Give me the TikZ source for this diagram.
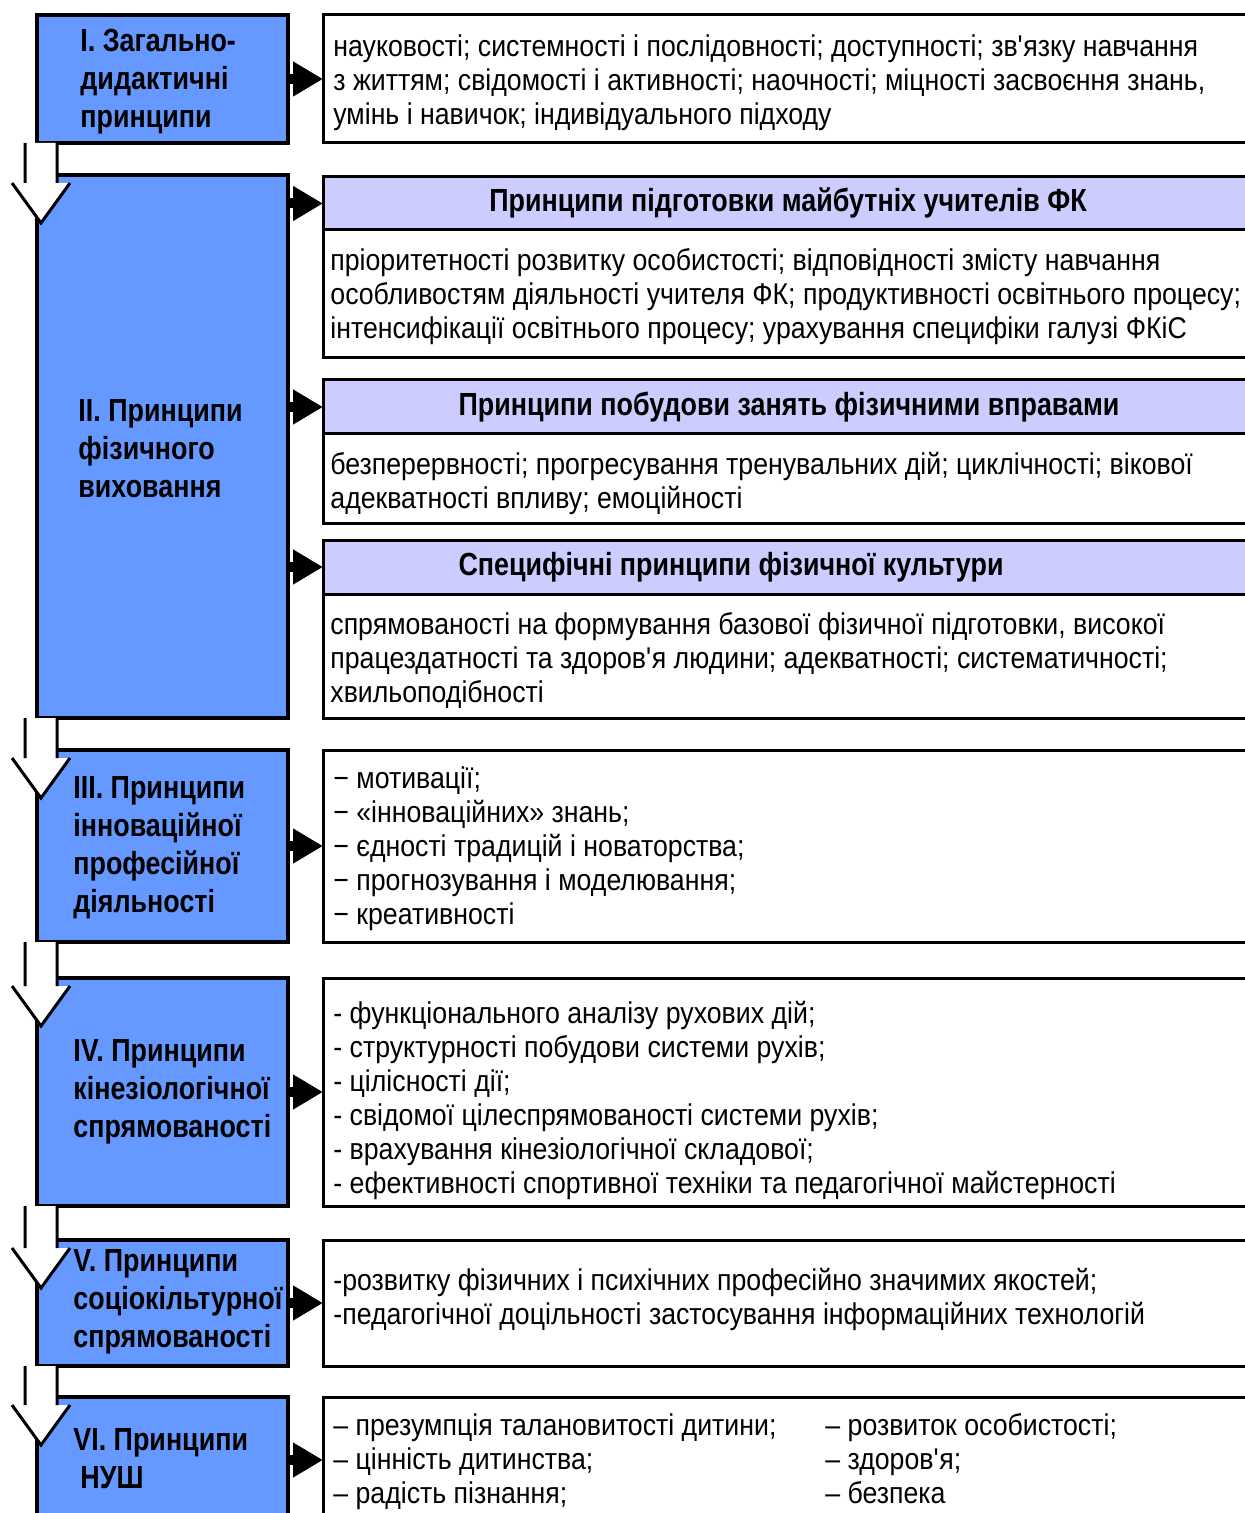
\documentclass[tikz,border=0pt]{standalone}
\usepackage{fontspec}
\setmainfont{Liberation Sans}
\newfontfamily\bodyfont{Liberation Sans}[FakeStretch=0.89]
\newfontfamily\titlefont{Liberation Sans}[FakeStretch=0.84]
\usetikzlibrary{arrows.meta,calc}
\definecolor{boxblue}{RGB}{102,153,255}
\definecolor{headlav}{RGB}{204,204,255}
\tikzset{
  bluebox/.style={draw, line width=1.6pt, fill=boxblue, inner sep=0pt, outer sep=0pt},
  whitebox/.style={draw, line width=1.5pt, fill=white, inner sep=0pt, outer sep=0pt},
  headbox/.style={draw, line width=1.5pt, fill=headlav, inner sep=0pt, outer sep=0pt},
  bodytext/.style={font=\bodyfont\fontsize{15}{17}\selectfont, align=left, inner sep=0pt, anchor=west},
  titletext/.style={font=\titlefont\fontsize{16}{19}\selectfont\bfseries, align=left, inner sep=0pt, anchor=west},
  headtext/.style={font=\titlefont\fontsize{16}{19}\selectfont\bfseries, inner sep=0pt},
  rarrow/.style={line width=5pt, -{Triangle[length=15pt,width=16.5pt]}},
  blockarrow/.style={line width=1.5pt},
}
% box from pixel corners
\newcommand\pxbox[6]{%
  \node[#1, minimum width={(#5-#3)*0.5pt}, minimum height={(#6-#4)*0.5pt}] (#2) at ({(#3+#5)/2},{(#4+#6)/2}) {};}
% white block arrow going down from box #1 to box #2
\newcommand\downblock[2]{%
  \coordinate (#1a) at ([xshift=-6pt]#1.south west);
  \coordinate (#1b) at ([xshift=10pt]#1.south west);
  \coordinate (#1c) at ([xshift=-6pt,yshift=-4pt]#2.north west);
  \coordinate (#1d) at ([xshift=10pt,yshift=-4pt]#2.north west);
  \coordinate (#1e) at ([xshift=-12.5pt,yshift=-4pt]#2.north west);
  \coordinate (#1f) at ([xshift=16.5pt,yshift=-4pt]#2.north west);
  \coordinate (#1g) at ([xshift=2pt,yshift=-24pt]#2.north west);
  \fill[white] (#1a) -- (#1c) -- (#1e) -- (#1g) -- (#1f) -- (#1d) -- (#1b) -- cycle;
  \draw[blockarrow] (#1a) -- (#1c) (#1b) -- (#1d) (#1e) -- (#1g) -- (#1f);}
\begin{document}
\begin{tikzpicture}[x=0.5pt,y=-0.5pt]
\clip (0,0) rectangle (1245,1513);
\fill[white] (0,0) rectangle (1245,1513);
% left boxes
\pxbox{bluebox}{L1}{37}{15}{288}{143}
\pxbox{bluebox}{L2}{37}{175}{288}{718}
\pxbox{bluebox}{L3}{37}{750}{288}{942}
\pxbox{bluebox}{L4}{37}{978}{288}{1206}
\pxbox{bluebox}{L5}{37}{1240}{288}{1366}
\pxbox{bluebox}{L6}{37}{1397}{288}{1530}
% right boxes
\pxbox{whitebox}{R1}{323}{15}{1265}{143}
\pxbox{headbox}{H1}{323}{177}{1265}{230}
\pxbox{whitebox}{B1}{323}{230}{1265}{358}
\pxbox{headbox}{H2}{323}{380}{1265}{434}
\pxbox{whitebox}{B2}{323}{434}{1265}{523}
\pxbox{headbox}{H3}{323}{540}{1265}{594}
\pxbox{whitebox}{B3}{323}{594}{1265}{718}
\pxbox{whitebox}{R3}{323}{750}{1265}{942}
\pxbox{whitebox}{R4}{323}{978}{1265}{1206}
\pxbox{whitebox}{R5}{323}{1240}{1265}{1366}
\pxbox{whitebox}{R6}{323}{1397}{1265}{1530}
% down block arrows
\downblock{L1}{L2}
\downblock{L2}{L3}
\downblock{L3}{L4}
\downblock{L4}{L5}
\downblock{L5}{L6}
% right arrows
\draw[rarrow] (L1.east) -- (R1.west);
\draw[rarrow] (L2.east |- H1.west) -- (H1.west);
\draw[rarrow] (L2.east |- H2.west) -- (H2.west);
\draw[rarrow] (L2.east |- H3.west) -- (H3.west);
\draw[rarrow] (L3.east) -- (R3.west);
\draw[rarrow] (L4.east) -- (R4.west);
\draw[rarrow] (L5.east) -- (R5.west);
\draw[rarrow] (L6.east |- 0,1460) -- (R6.west |- 0,1460);
% left titles
\node[titletext] (t1) at (80,82) {I. Загально-\\дидактичні\\принципи};
\node[titletext] (t2) at (78,449) {II. Принципи\\фізичного\\виховання};
\node[titletext] (t3) at (73,848) {III. Принципи\\інноваційної\\професійної\\діяльності};
\node[titletext] (t4) at (73,1092) {IV. Принципи\\кінезіологічної\\спрямованості};
\node[titletext] (t5) at (73,1302) {V. Принципи\\соціокільтурної\\спрямованості};
\node[titletext] (t6) at (73,1459) {VI. Принципи\\\hspace*{3.5pt}НУШ};
% headers
\node[headtext] (h1) at (788,203) {Принципи підготовки майбутніх учителів ФК};
\node[headtext] (h2) at (789,407) {Принципи побудови занять фізичними вправами};
\node[headtext] (h3) at (731,567) {Специфічні принципи фізичної культури};
% body texts
\node[bodytext] (x1) at (333,83) {науковості; системності і послідовності; доступності; зв\textquotesingle язку навчання\\з життям; свідомості і активності; наочності; міцності засвоєння знань,\\умінь і навичок; індивідуального підходу};
\node[bodytext] (x2) at (330,297) {пріоритетності розвитку особистості; відповідності змісту навчання\\особливостям діяльності учителя ФК; продуктивності освітнього процесу;\\інтенсифікації освітнього процесу; урахування специфіки галузі ФКіС};
\node[bodytext] (x3) at (330,483) {безперервності; прогресування тренувальних дій; циклічності; вікової\\адекватності впливу; емоційності};
\node[bodytext] (x4) at (330,660) {спрямованості на формування базової фізичної підготовки, високої\\працездатності та здоров\textquotesingle я людини; адекватності; систематичності;\\хвильоподібності};
\node[bodytext] (x5) at (333,849) {− мотивації;\\− «інноваційних» знань;\\− єдності традицій і новаторства;\\− прогнозування і моделювання;\\− креативності};
\node[bodytext] (x6) at (333,1100) {- функціонального аналізу рухових дій;\\- структурності побудови системи рухів;\\- цілісності дії;\\- свідомої цілеспрямованості системи рухів;\\- врахування кінезіологічної складової;\\- ефективності спортивної техніки та педагогічної майстерності};
\node[bodytext] (x7) at (333,1299) {-розвитку фізичних і психічних професійно значимих якостей;\\-педагогічної доцільності застосування інформаційних технологій};
\node[bodytext] (x8) at (333,1463) {\strut– презумпція талановитості дитини;\\– цінність дитинства;\\– радість пізнання;\strut};
\node[bodytext] (x9) at (825,1463) {\strut– розвиток особистості;\\– здоров\textquotesingle я;\\– безпека\strut};
\end{tikzpicture}
\end{document}
